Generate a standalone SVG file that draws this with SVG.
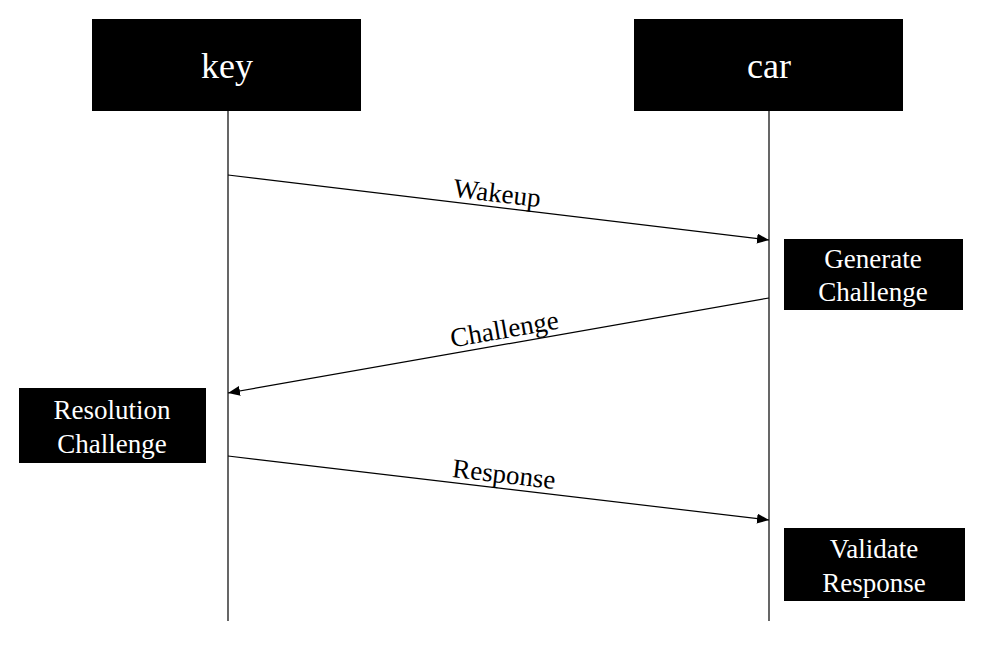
<svg xmlns="http://www.w3.org/2000/svg" width="985" height="647" viewBox="0 0 985 647">
<style>
.box{fill:#000}
.t{fill:#fff;font-family:"Liberation Serif","Times New Roman",serif;text-anchor:middle}
.big{font-size:36px}
.sm{font-size:27px}
.life{stroke:#000;stroke-width:1.2;fill:none}
.msg{stroke:#000;stroke-width:1.2;fill:none;marker-end:url(#ah)}
.lbl{fill:#000;font-family:"Liberation Serif","Times New Roman",serif;font-size:27px;text-anchor:middle}
</style>
<defs>
<marker id="ah" viewBox="0 0 12 10" refX="12" refY="5" markerWidth="12" markerHeight="10" markerUnits="userSpaceOnUse" orient="auto">
<path d="M0,0 L12,5 L0,10 Z" fill="#000"/>
</marker>
</defs>
<rect width="985" height="647" fill="#fff"/>
<g id="connectors">
<line class="life" x1="228" y1="111" x2="228" y2="621"/>
<line class="life" x1="769" y1="111" x2="769" y2="621"/>
<line class="msg" x1="228" y1="175" x2="769" y2="240"/>
<line class="msg" x1="769" y1="298" x2="228" y2="393"/>
<line class="msg" x1="228" y1="456" x2="769" y2="520"/>
<text class="lbl" x="496" y="202" transform="rotate(6.85 496 202)">Wakeup</text>
<text class="lbl" x="506" y="338" transform="rotate(-9.96 506 338)">Challenge</text>
<text class="lbl" x="503" y="483" transform="rotate(6.75 503 483)">Response</text>
</g>
<g id="key">
<rect class="box" x="92" y="19" width="269" height="92"/>
<text class="t big" x="227" y="78">key</text>
</g>
<g id="car">
<rect class="box" x="634" y="19" width="269" height="92"/>
<text class="t big" x="769" y="78">car</text>
</g>
<g id="generate-challenge">
<rect class="box" x="784" y="239" width="179" height="71"/>
<text class="t sm" x="873" y="268">Generate</text>
<text class="t sm" x="873" y="301">Challenge</text>
</g>
<g id="resolution-challenge">
<rect class="box" x="19" y="388" width="187" height="75"/>
<text class="t sm" x="112" y="419">Resolution</text>
<text class="t sm" x="112" y="453">Challenge</text>
</g>
<g id="validate-response">
<rect class="box" x="784" y="528" width="181" height="73"/>
<text class="t sm" x="874" y="558">Validate</text>
<text class="t sm" x="874" y="592">Response</text>
</g>
</svg>
